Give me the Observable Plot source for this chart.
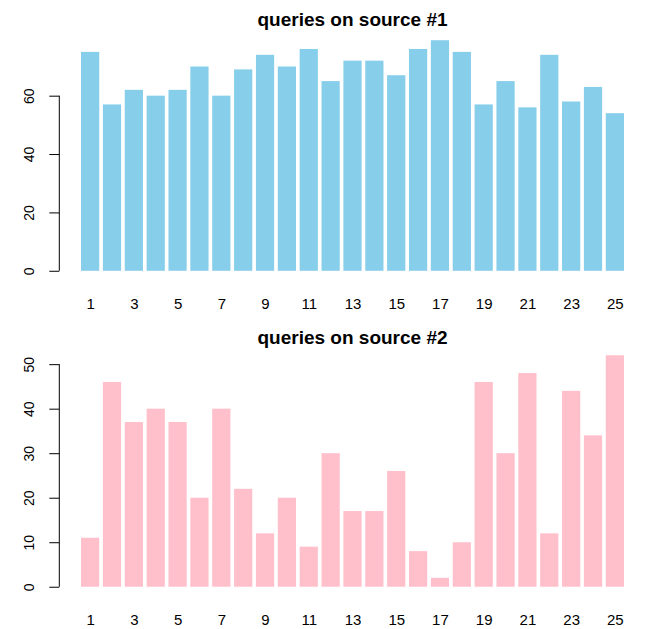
<!DOCTYPE html>
<html>
<head>
<meta charset="utf-8">
<script src="https://cdn.jsdelivr.net/npm/d3@7"></script>
<script src="https://cdn.jsdelivr.net/npm/@observablehq/plot@0.6"></script>
<style>
  html, body { margin: 0; padding: 0; background: #fff; }
  body { width: 667px; height: 629px; overflow: hidden; font-family: "Liberation Sans", Arial, sans-serif; }
  .title { width: 667px; box-sizing: border-box; text-align: center; font-weight: bold; font-size: 19px; line-height: 19px; color: #000; padding-left: 38px; }
  svg { display: block; }
</style>
</head>
<body>
<div id="t1" class="title" style="height:31px;padding-top:10px;">queries on source #1</div>
<div id="c1"></div>
<div id="t2" class="title" style="height:32px;padding-top:14px;">queries on source #2</div>
<div id="c2"></div>
<script>
const days = d3.range(1, 26).map(String);
const source1 = [75,57,62,60,62,70,60,69,74,70,76,65,72,72,67,76,79,75,57,65,56,74,58,63,54];
const source2 = [11,46,37,40,37,20,40,22,12,20,9,30,17,17,26,8,2,10,46,30,48,12,44,34,52];
const xTickLabels = ["1","3","5","7","9","11","13","15","17","19","21","23","25"];
const yTicks1 = [0, 20, 40, 60];
const yTicks2 = [0, 10, 20, 30, 40, 50];
const color1 = "#87CEEB";
const color2 = "#FFC0CB";

function panel(values, ticks, color, height, marginBottom) {
  const table = days.map((d, i) => ({day: d, value: values[i]}));
  const max = d3.max(values);
  const pad = max * 0.04;
  const axisLine = (index, scales, vals, dims) => {
    const y = scales.y;
    return d3.create("svg:line")
      .attr("x1", dims.marginLeft).attr("x2", dims.marginLeft)
      .attr("y1", y(ticks[0])).attr("y2", y(ticks[ticks.length - 1]))
      .attr("stroke", "black").attr("stroke-width", 1)
      .node();
  };
  return Plot.plot({
    width: 667,
    height: height,
    marginLeft: 59.3,
    marginRight: 21.3,
    marginTop: 0,
    marginBottom: marginBottom,
    style: {fontFamily: "Liberation Sans, Arial, sans-serif", color: "black", background: "white"},
    x: {type: "band", domain: days, paddingInner: 1/6, paddingOuter: 0.9933, align: 0.5, round: false, label: null},
    y: {domain: [-pad, max + pad], label: null},
    marks: [
      Plot.barY(table, {x: "day", y: "value", fill: color}),
      Plot.axisX({ticks: xTickLabels, tickSize: 0, tickPadding: 18, fontSize: 15, label: null}),
      Plot.axisY({ticks: ticks, tickSize: 10, tickPadding: 16, tickRotate: -90, fontSize: 14, label: null}),
      axisLine
    ]
  });
}

document.getElementById("c1").appendChild(panel(source1, yTicks1, color1, 283, 34));
document.getElementById("c2").appendChild(panel(source2, yTicks2, color2, 283, 33));
</script>
</body>
</html>
